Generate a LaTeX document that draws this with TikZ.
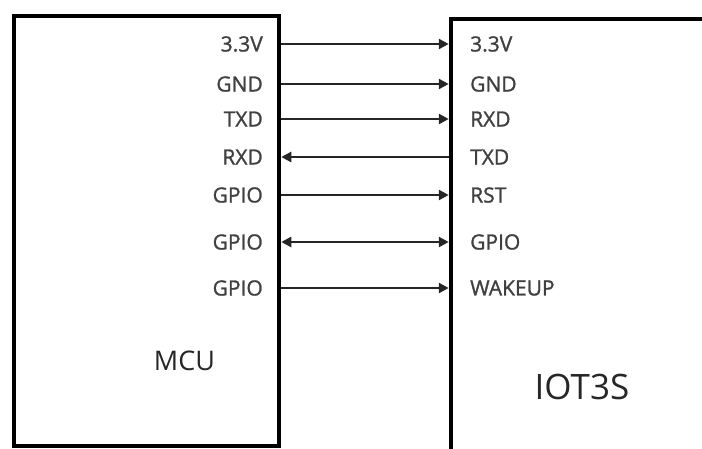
\documentclass[tikz,border=0pt]{standalone}
\usepackage{fontspec}
\setmainfont{Open Sans}
\newfontfamily\pinfont[FakeBold=1.2]{Open Sans}
\usepackage{tikz}
\usetikzlibrary{arrows.meta}
\definecolor{pintext}{HTML}{404040}
\tikzset{
  chip/.style={draw,line width=4.5pt,inner sep=0pt},
  pinl/.style={anchor=east,inner sep=0pt,text=pintext,font=\pinfont\fontsize{21}{21}\selectfont},
  pinr/.style={anchor=west,inner sep=0pt,text=pintext,font=\pinfont\fontsize{21}{21}\selectfont},
  wire/.style={line width=2.5pt,draw=black!85}
}

\begin{document}
\begin{tikzpicture}[line cap=butt,line join=miter,>={Triangle[length=10pt,width=10pt]},x=1pt,y=-1pt]
\useasboundingbox (0,0) rectangle (702,448);
\clip (0,0) rectangle (702,448);
% the two chips
\node [chip,minimum width=265pt,minimum height=430pt] (mcu) at (146.5,231) {};
\node [chip,minimum width=400pt,minimum height=500pt] (iot) at (651,269) {};
\node [text=black!85,font=\fontsize{27}{27}\selectfont] (mcuname) at (184.5,361) {MCU};
\node [text=black!85,font=\fontsize{35}{35}\selectfont] (iotname) at (582,387) {IOT3S};
% pins of the MCU
\node [pinl] (m1) at (263,44) {3.3V};
\node [pinl] (m2) at (263,84) {GND};
\node [pinl] (m3) at (263,119) {TXD};
\node [pinl] (m4) at (263,157) {RXD};
\node [pinl] (m5) at (263,195) {GPIO};
\node [pinl] (m6) at (263,242) {GPIO};
\node [pinl] (m7) at (263,288) {GPIO};
% pins of the IOT3S
\node [pinr] (i1) at (470,44) {3.3V};
\node [pinr] (i2) at (470,84) {GND};
\node [pinr] (i3) at (470,119) {RXD};
\node [pinr] (i4) at (470,157) {TXD};
\node [pinr] (i5) at (470,195) {RST};
\node [pinr] (i6) at (470,242) {GPIO};
\node [pinr] (i7) at (470,288) {WAKEUP};
% wires
\draw [wire,->] (mcu.east |- m1) -- (iot.west |- i1);
\draw [wire,->] (mcu.east |- m2) -- (iot.west |- i2);
\draw [wire,->] (mcu.east |- m3) -- (iot.west |- i3);
\draw [wire,<-] (mcu.east |- m4) -- (iot.west |- i4);
\draw [wire,->] (mcu.east |- m5) -- (iot.west |- i5);
\draw [wire,<->] (mcu.east |- m6) -- (iot.west |- i6);
\draw [wire,->] (mcu.east |- m7) -- (iot.west |- i7);
\end{tikzpicture}
\end{document}
